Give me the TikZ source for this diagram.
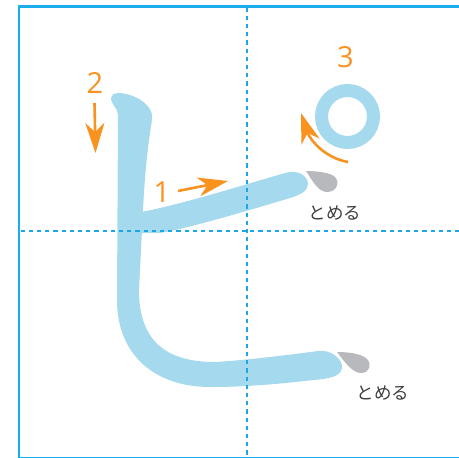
\documentclass[tikz,border=0pt]{standalone}
\usepackage{fontspec}
\setmainfont{Open Sans}
\newfontfamily\jpfont{Noto Sans CJK JP}
\usetikzlibrary{arrows.meta}
\definecolor{frameblue}{HTML}{19AEEB}
\definecolor{dashblue}{HTML}{1CA6E6}
\definecolor{strokeblue}{HTML}{A5DAEE}
\definecolor{orangeA}{HTML}{F7931E}
\definecolor{dropgray}{HTML}{B8B9BC}
\definecolor{textgray}{HTML}{3C3C3C}
\tikzset{
  kana/.style={fill=strokeblue, draw=none},
  drop/.style={fill=dropgray, draw=none},
  guide/.style={dashblue, line width=2.9pt, dash pattern=on 4.2pt off 4pt},
  orderarrow/.style={orangeA, line width=2.6pt, -{Stealth[length=30pt, width=19pt, inset=9pt]}},
  num/.style={orangeA, font=\fontsize{29}{29}\selectfont, inner sep=0pt},
  tome/.style={textgray, font=\jpfont\fontsize{17.5}{17.5}\selectfont, inner sep=0pt},
}
\begin{document}
\begin{tikzpicture}[x=1pt, y=-1pt]
\useasboundingbox (0,0) rectangle (459,458);
% frame
\coordinate (tl) at (19,6.2);
\coordinate (tr) at (459,6.2);
\coordinate (bl) at (19,458);
\coordinate (bl2) at (19,457);
\coordinate (br) at (459,457);
\draw[frameblue, line width=1pt] (bl2) -- (br);
\draw[frameblue, line width=2.6pt] (tr) -- (tl) -- (bl);
% stroke 2
\fill[kana] (111,98)
 .. controls (112,92) and (120,92) .. (130,95)
 .. controls (145,100) and (154,110) .. (152,120)
 .. controls (148,145) and (145,170) .. (143,210)
 -- (139,290)
 .. controls (139,340) and (165,362) .. (215,362)
 .. controls (250,360) and (295,354) .. (318,351)
 .. controls (332,349) and (343,360) .. (342,368)
 .. controls (341,376) and (330,379) .. (313,380)
 .. controls (280,384) and (245,387) .. (210,387)
 .. controls (155,387) and (117,355) .. (117,300)
 -- (118,115)
 .. controls (118,108) and (110,103) .. (111,98) -- cycle;
% stroke 1
\fill[kana] (141,212)
 .. controls (180,205) and (250,183) .. (285,173)
 .. controls (298,169) and (308,176) .. (308,184)
 .. controls (308,191) and (300,195) .. (290,198)
 .. controls (250,210) and (190,228) .. (160,233)
 -- (139,233) -- cycle;
% stroke 3 (ring)
\node[draw=strokeblue, line width=13pt, circle, minimum size=52pt, inner sep=0pt] (ring) at (347.5,116.5) {};
% guides
\coordinate (vt) at (247,7.5);
\coordinate (vb) at (247,458);
\coordinate (hl) at (20.5,231);
\coordinate (hr) at (459,231);
\draw[guide] (vt) -- (vb);
\draw[guide] (hl) -- (hr);
% stop marks
\fill[drop] (306,171)
 .. controls (319,171) and (331,173) .. (335,177)
 .. controls (340,182) and (337,192) .. (327,192)
 .. controls (318,192) and (312,180) .. (306,171) -- cycle;
\fill[drop] (337,352)
 .. controls (350,352) and (362,354) .. (367,359)
 .. controls (372,364) and (370,373) .. (361,373)
 .. controls (352,373) and (344,361) .. (337,352) -- cycle;
\node[tome] (t1) at (335,213) {とめる};
\node[tome] (t2) at (383,393) {とめる};
% order arrows
\coordinate (a1s) at (178,191);
\coordinate (a1e) at (228,181);
\coordinate (a2s) at (94.5,103);
\coordinate (a2e) at (95.5,153);
\coordinate (a3s) at (348,162);
\coordinate (a3e) at (301,113);
\draw[orderarrow] (a1s) -- (a1e);
\draw[orderarrow] (a2s) -- (a2e);
\draw[orderarrow] (a3s) .. controls (325,158) and (310,140) .. (a3e);
\node[num] (n1) at (162,192.5) {1};
\node[num] (n2) at (95,82.5) {2};
\node[num] (n3) at (345.5,57.5) {3};
\end{tikzpicture}
\end{document}
